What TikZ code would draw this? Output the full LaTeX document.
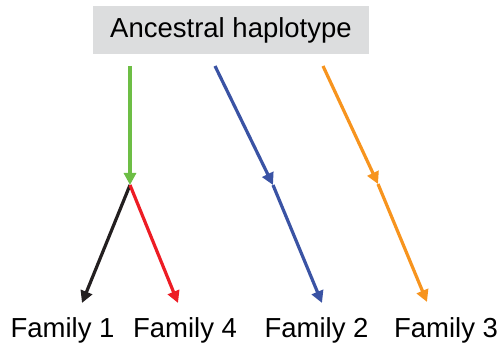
\documentclass[tikz,border=0pt]{standalone}
\usepackage{fontspec}
\setmainfont{Liberation Sans}
\usetikzlibrary{arrows.meta}
\definecolor{cgreen}{HTML}{6DBE45}
\definecolor{cblue}{HTML}{3A53A4}
\definecolor{corange}{HTML}{F7941E}
\definecolor{cred}{HTML}{ED1C24}
\definecolor{cblack}{HTML}{231F20}
\definecolor{cgray}{HTML}{DCDDDE}
\begin{document}
\begin{tikzpicture}[x=1pt,y=-1pt,
  arr/.style={line width=3.2pt,-{Triangle[length=12pt,width=12pt]}},
  lbl/.style={anchor=base,inner sep=0pt,font=\fontsize{27.5}{32}\selectfont}]
\useasboundingbox (0,0) rectangle (501,347);
\node[fill=cgray,minimum width=276pt,minimum height=48pt,inner sep=0pt,
      font=\fontsize{27.5}{32}\selectfont] (top) at (231,30) {Ancestral haplotype};
\coordinate (gs) at (130,66);
\coordinate (j) at (130,185);
\coordinate (bs) at (215,66);
\coordinate (bm) at (273,185);
\coordinate (os) at (323,66);
\coordinate (om) at (378,184);
\coordinate (t1) at (82,303);
\coordinate (t4) at (178,303);
\coordinate (t2) at (322,303);
\coordinate (t3) at (427,302);
\node[lbl] (f1) at (62.5,338) {Family 1};
\node[lbl] (f4) at (185,338) {Family 4};
\node[lbl] (f2) at (316.5,338) {Family 2};
\node[lbl] (f3) at (446,338) {Family 3};
\draw[arr,cblack] (j) -- (t1);
\draw[arr,cred] (j) -- (t4);
\draw[arr,cgreen] (gs) -- (j);
\draw[arr,cblue] (bs) -- (bm);
\draw[arr,cblue] (bm) -- (t2);
\draw[arr,corange] (os) -- (om);
\draw[arr,corange] (om) -- (t3);
\end{tikzpicture}
\end{document}
